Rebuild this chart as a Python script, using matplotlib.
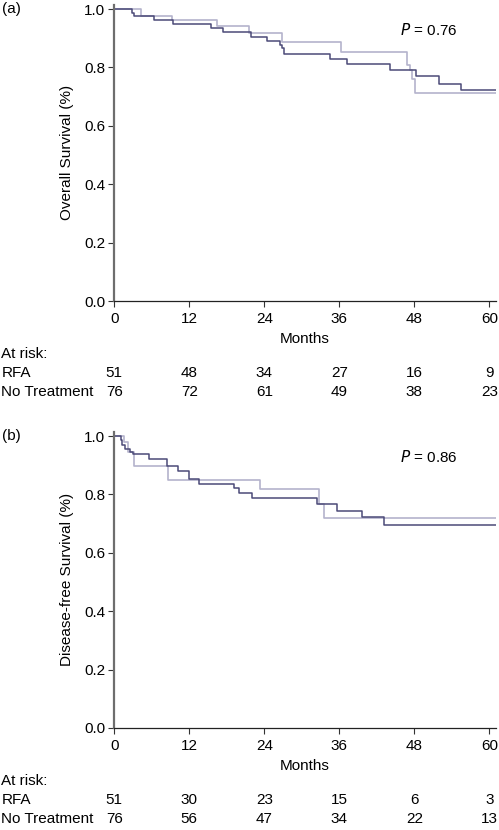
import matplotlib
matplotlib.use("Agg")
import matplotlib.pyplot as plt
import numpy as np

plt.rcParams['font.family'] = ['Liberation Sans', 'DejaVu Sans']
plt.rcParams['font.size'] = 11

# (a) overall survival: step times (months) and survival after each step
os_dark_t = [0, 2.9, 3.2, 6.4, 9.4, 15.5, 17.4, 21.9, 24.5, 26.5, 26.8, 27.2,
             34.5, 37.2, 44.1, 48.3, 52.0, 55.4, 61]
os_dark_s = [1.0, 0.988, 0.977, 0.962, 0.950, 0.937, 0.921, 0.903, 0.891, 0.877,
             0.866, 0.846, 0.828, 0.811, 0.790, 0.770, 0.745, 0.723, 0.723]
os_light_t = [0, 4.3, 9.3, 16.4, 21.6, 26.8, 36.2, 46.9, 47.3, 47.6, 48.1, 61]
os_light_s = [1.0, 0.977, 0.962, 0.942, 0.919, 0.888, 0.854, 0.808, 0.791,
              0.759, 0.711, 0.711]

# (b) disease-free survival
dfs_dark_t = [0, 1.1, 1.3, 1.7, 2.5, 3.0, 5.55, 8.5, 10.2, 12.0, 13.6, 19.2,
              20.0, 22.0, 32.4, 35.7, 39.7, 43.2, 61]
dfs_dark_s = [1.0, 0.986, 0.969, 0.955, 0.946, 0.937, 0.923, 0.898, 0.880,
              0.852, 0.836, 0.821, 0.806, 0.787, 0.767, 0.743, 0.722, 0.696, 0.696]
dfs_light_t = [0, 1.55, 2.2, 3.2, 8.6, 23.3, 32.7, 33.6, 61]
dfs_light_s = [1.0, 0.981, 0.946, 0.898, 0.849, 0.817, 0.767, 0.719, 0.719]

months = [0, 12, 24, 36, 48, 60]
groups = ["RFA", "No Treatment"]
os_risk = [[51, 48, 34, 27, 16, 9], [76, 72, 61, 49, 38, 23]]
dfs_risk = [[51, 30, 23, 15, 6, 3], [76, 56, 47, 34, 22, 13]]

dark = '#4b4a78'
light = '#b4b3cc'
fs = 11


def panel(fig, rect, tag, ylabel, dark_t, dark_s, light_t, light_s, pval, risk):
    ax = fig.add_axes(rect)
    ax.step(light_t, light_s, where='post', color=light, lw=1.2)
    ax.step(dark_t, dark_s, where='post', color=dark, lw=1.1)
    ax.set_xlim(0, 61)
    ax.set_ylim(0, 1.015)
    ax.set_xticks(months)
    ax.set_yticks(np.arange(0, 1.01, 0.2))
    ax.set_yticklabels(['%.1f' % v for v in np.arange(0, 1.01, 0.2)])
    ax.spines['top'].set_visible(False)
    ax.spines['right'].set_visible(False)
    ax.spines['left'].set_color('#6e6e6e')
    ax.spines['left'].set_linewidth(1.6)
    ax.spines['bottom'].set_color('#222222')
    ax.spines['bottom'].set_linewidth(0.9)
    ax.tick_params(direction='out', length=4, width=0.8, color='#333333',
                   labelsize=fs, pad=2.5)
    ax.tick_params(axis='x', pad=4)
    ax.set_ylabel(ylabel, fontsize=fs, labelpad=7)
    ax.set_xlabel('Months', fontsize=fs, labelpad=4)
    ax.text(45.7, 0.928, '$P$ = ' + pval, fontsize=fs, va='center', ha='left')

    x0, y0, w, h = rect
    fig.text(0.004, y0 + h + 0.003, tag, fontsize=fs, va='top', ha='left')
    ax.annotate('At risk:', xy=(0, 0), xycoords=('figure fraction', 'axes fraction'),
                xytext=(1, -53 * 0.72), textcoords='offset points',
                ha='left', va='center', fontsize=fs)
    for i, g in enumerate(groups):
        off = -(72 + 19 * i) * 0.72
        ax.annotate(g, xy=(0, 0), xycoords=('figure fraction', 'axes fraction'),
                    xytext=(1, off), textcoords='offset points',
                    ha='left', va='center', fontsize=fs)
        for m, n in zip(months, risk[i]):
            ax.annotate(str(n), xy=(m, 0), xycoords=('data', 'axes fraction'),
                        xytext=(0, off), textcoords='offset points',
                        ha='center', va='center', fontsize=fs)
    return ax


fig = plt.figure(figsize=(4.99, 8.30), dpi=100)
panel(fig, [0.229, 0.6373, 0.764, 0.357], '(a)', 'Overall Survival (%)',
      os_dark_t, os_dark_s, os_light_t, os_light_s, '0.76', os_risk)
panel(fig, [0.229, 0.1229, 0.764, 0.357], '(b)', 'Disease-free Survival (%)',
      dfs_dark_t, dfs_dark_s, dfs_light_t, dfs_light_s, '0.86', dfs_risk)

fig.savefig('out.png', dpi=100)
